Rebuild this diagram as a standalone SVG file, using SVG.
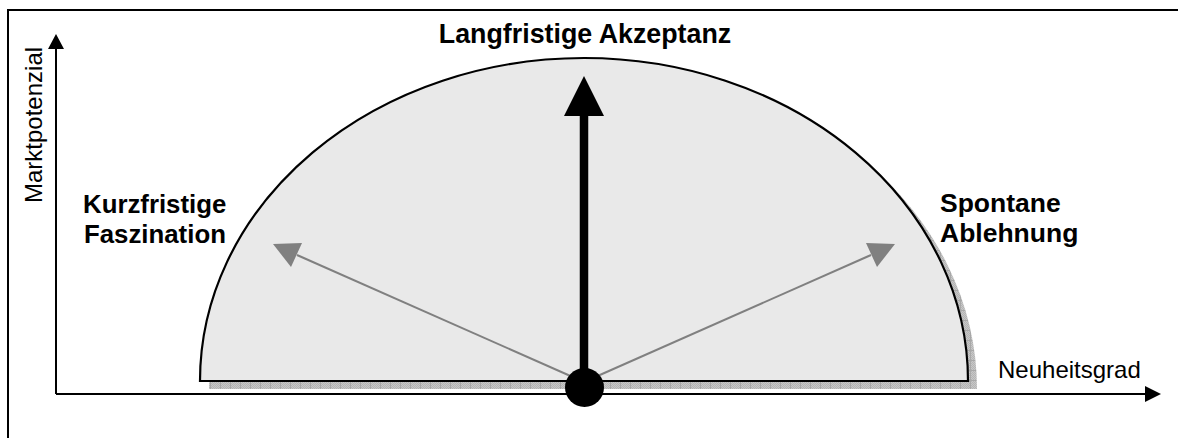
<svg xmlns="http://www.w3.org/2000/svg" width="1178" height="438" viewBox="0 0 1178 438">
<style>
.b{font-family:"Liberation Sans",Arial,sans-serif;font-weight:bold;font-size:25.8px;fill:#000}
.r{font-family:"Liberation Sans",Arial,sans-serif;font-size:24px;fill:#000}
.ax{stroke:#000;stroke-width:2;fill:none}
.g{stroke:#808080;stroke-width:2;fill:none}
</style>
<defs>
<pattern id="sh" width="10" height="10" patternUnits="userSpaceOnUse">
<rect width="10" height="10" fill="#c8c8c8"/>
<path d="M0,0h1v1h-1zM2,0h1v1h-1zM4,0h1v1h-1zM6,0h1v1h-1zM8,0h1v1h-1zM1,1h1v1h-1zM3,1h1v1h-1zM5,1h1v1h-1zM7,1h1v1h-1zM9,1h1v1h-1z" fill="#b4b4b4"/>
<path d="M0,2h1v1h-1zM2,2h1v1h-1zM4,2h1v1h-1zM6,2h1v1h-1zM8,2h1v1h-1zM1,3h1v1h-1zM3,3h1v1h-1zM5,3h1v1h-1zM7,3h1v1h-1zM9,3h1v1h-1zM0,4h1v1h-1zM2,4h1v1h-1zM4,4h1v1h-1zM6,4h1v1h-1zM8,4h1v1h-1zM1,5h1v1h-1zM3,5h1v1h-1zM5,5h1v1h-1zM7,5h1v1h-1zM9,5h1v1h-1zM0,6h1v1h-1zM2,6h1v1h-1zM4,6h1v1h-1zM6,6h1v1h-1zM8,6h1v1h-1zM1,7h1v1h-1zM3,7h1v1h-1zM5,7h1v1h-1zM7,7h1v1h-1zM9,7h1v1h-1zM0,8h1v1h-1zM2,8h1v1h-1zM4,8h1v1h-1zM6,8h1v1h-1zM8,8h1v1h-1zM1,9h1v1h-1zM3,9h1v1h-1zM5,9h1v1h-1zM7,9h1v1h-1zM9,9h1v1h-1z" fill="#b4b4b4"/>
<path d="M0.5,0V10M0,0.5H10" stroke="#a8a8a8" stroke-width="1"/>
</pattern>
</defs>
<rect x="8" y="10" width="1182" height="440" class="ax"/>
<g id="semicircle">
<path d="M209,389 A384,323 0 0 1 977,389 Z" fill="url(#sh)"/>
<path d="M200,381 A384,323 0 0 1 968,381 Z" fill="#e9e9e9" stroke="#000" stroke-width="2.2"/>
</g>
<g id="connectors">
<path class="ax" d="M56,394V48"/>
<polygon points="56,34 48,49 64,49" fill="#000"/>
<path class="ax" d="M56,394H1146"/>
<polygon points="1161,394 1145,386 1145,402" fill="#000"/>
<path class="g" d="M584,382L297,255"/>
<polygon points="273,244 302,243 291,267" fill="#808080"/>
<path class="g" d="M584,382L871,255"/>
<polygon points="895,244 866,243 877,267" fill="#808080"/>
<path d="M584,388V112" stroke="#000" stroke-width="8.5" fill="none"/>
<polygon points="584,76 564,116 604,116" fill="#000"/>
<circle cx="584.5" cy="387.5" r="19.5" fill="#000"/>
</g>
<g id="label-top"><text class="b" x="585" y="43" text-anchor="middle" style="font-size:26.8px">Langfristige Akzeptanz</text></g>
<g id="label-left"><text class="b" x="83" y="213">Kurzfristige</text><text class="b" x="84" y="243">Faszination</text></g>
<g id="label-right"><text class="b" x="940" y="212" style="font-size:26.5px">Spontane</text><text class="b" x="940" y="242" style="font-size:26.5px">Ablehnung</text></g>
<g id="label-x"><text class="r" x="998" y="378">Neuheitsgrad</text></g>
<g id="label-y"><text class="r" transform="translate(42,203) rotate(-90)">Marktpotenzial</text></g>
</svg>
